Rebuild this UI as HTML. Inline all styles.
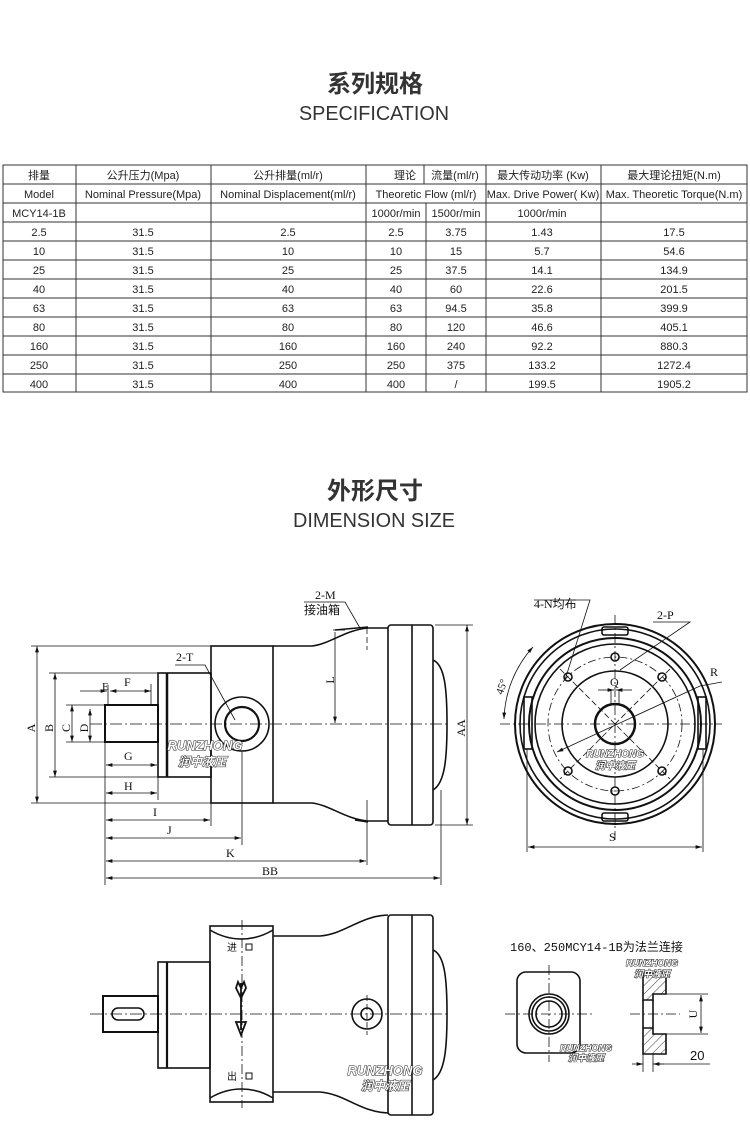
<!DOCTYPE html>
<html><head><meta charset="utf-8"><style>
html,body{margin:0;padding:0;background:#fff;}
svg{display:block;}
.t{font-family:"Liberation Sans Narrow","Liberation Sans","Noto Sans CJK SC",sans-serif;font-size:11px;fill:#222;}
.c{font-family:"Liberation Serif","Noto Sans CJK SC",serif;font-size:12px;fill:#111;}
.wm{font-family:"Liberation Sans","Noto Sans CJK SC",sans-serif;font-weight:bold;font-style:italic;fill:#fff;stroke:#222;stroke-width:1;paint-order:stroke;}
</style></head><body>
<svg width="750" height="1127" viewBox="0 0 750 1127" xmlns="http://www.w3.org/2000/svg">
<rect width="750" height="1127" fill="#fff"/>
<text x="375" y="92" text-anchor="middle" font-family="'Noto Sans CJK SC',sans-serif" font-weight="bold" font-size="24" fill="#333">系列规格</text>
<text x="374" y="120" text-anchor="middle" font-family="'Liberation Sans',sans-serif" font-size="20" fill="#333" textLength="150" lengthAdjust="spacingAndGlyphs">SPECIFICATION</text>
<text x="375" y="499" text-anchor="middle" font-family="'Noto Sans CJK SC',sans-serif" font-weight="bold" font-size="24" fill="#333">外形尺寸</text>
<text x="374" y="527" text-anchor="middle" font-family="'Liberation Sans',sans-serif" font-size="20" fill="#333" textLength="162" lengthAdjust="spacingAndGlyphs">DIMENSION SIZE</text>

<g stroke="#333" stroke-width="1" fill="none">
<rect x="3" y="165" width="744" height="227"/>
<line x1="3" y1="184" x2="747" y2="184"/><line x1="3" y1="203" x2="747" y2="203"/><line x1="3" y1="222" x2="747" y2="222"/>
<line x1="3" y1="241" x2="747" y2="241"/><line x1="3" y1="260" x2="747" y2="260"/><line x1="3" y1="279" x2="747" y2="279"/>
<line x1="3" y1="298" x2="747" y2="298"/><line x1="3" y1="317" x2="747" y2="317"/><line x1="3" y1="336" x2="747" y2="336"/>
<line x1="3" y1="355" x2="747" y2="355"/><line x1="3" y1="374" x2="747" y2="374"/>
<line x1="76" y1="165" x2="76" y2="392"/><line x1="211" y1="165" x2="211" y2="392"/><line x1="366" y1="165" x2="366" y2="392"/>
<line x1="424" y1="165" x2="424" y2="184"/><line x1="426" y1="203" x2="426" y2="392"/>
<line x1="486" y1="165" x2="486" y2="392"/><line x1="601" y1="165" x2="601" y2="392"/>
</g>
<g class="t" text-anchor="middle">
<text x="39" y="179">排量</text><text x="143" y="179">公升压力(Mpa)</text><text x="288" y="179">公升排量(ml/r)</text><text x="405" y="179">理论</text><text x="455" y="179">流量(ml/r)</text><text x="543" y="179">最大传动功率 (Kw)</text><text x="674" y="179">最大理论扭矩(N.m)</text>
<text x="39" y="198">Model</text><text x="143" y="198">Nominal Pressure(Mpa)</text><text x="288" y="198">Nominal Displacement(ml/r)</text><text x="426" y="198">Theoretic Flow (ml/r)</text><text x="543" y="198">Max. Drive Power( Kw)</text><text x="674" y="198">Max. Theoretic Torque(N.m)</text>
<text x="39" y="217">MCY14-1B</text><text x="396" y="217">1000r/min</text><text x="456" y="217">1500r/min</text><text x="542" y="217">1000r/min</text>
</g>
<g class="t" text-anchor="middle">
<text x="39" y="236">2.5</text><text x="143" y="236">31.5</text><text x="288" y="236">2.5</text><text x="396" y="236">2.5</text><text x="456" y="236">3.75</text><text x="542" y="236">1.43</text><text x="674" y="236">17.5</text>
<text x="39" y="255">10</text><text x="143" y="255">31.5</text><text x="288" y="255">10</text><text x="396" y="255">10</text><text x="456" y="255">15</text><text x="542" y="255">5.7</text><text x="674" y="255">54.6</text>
<text x="39" y="274">25</text><text x="143" y="274">31.5</text><text x="288" y="274">25</text><text x="396" y="274">25</text><text x="456" y="274">37.5</text><text x="542" y="274">14.1</text><text x="674" y="274">134.9</text>
<text x="39" y="293">40</text><text x="143" y="293">31.5</text><text x="288" y="293">40</text><text x="396" y="293">40</text><text x="456" y="293">60</text><text x="542" y="293">22.6</text><text x="674" y="293">201.5</text>
<text x="39" y="312">63</text><text x="143" y="312">31.5</text><text x="288" y="312">63</text><text x="396" y="312">63</text><text x="456" y="312">94.5</text><text x="542" y="312">35.8</text><text x="674" y="312">399.9</text>
<text x="39" y="331">80</text><text x="143" y="331">31.5</text><text x="288" y="331">80</text><text x="396" y="331">80</text><text x="456" y="331">120</text><text x="542" y="331">46.6</text><text x="674" y="331">405.1</text>
<text x="39" y="350">160</text><text x="143" y="350">31.5</text><text x="288" y="350">160</text><text x="396" y="350">160</text><text x="456" y="350">240</text><text x="542" y="350">92.2</text><text x="674" y="350">880.3</text>
<text x="39" y="369">250</text><text x="143" y="369">31.5</text><text x="288" y="369">250</text><text x="396" y="369">250</text><text x="456" y="369">375</text><text x="542" y="369">133.2</text><text x="674" y="369">1272.4</text>
<text x="39" y="388">400</text><text x="143" y="388">31.5</text><text x="288" y="388">400</text><text x="396" y="388">400</text><text x="456" y="388">/</text><text x="542" y="388">199.5</text><text x="674" y="388">1905.2</text>
</g>

<defs>
<marker id="a" viewBox="0 0 10 6" refX="10" refY="3" markerWidth="8" markerHeight="5" orient="auto-start-reverse"><path d="M0,0L10,3L0,6z" fill="#111"/></marker>
</defs>

<g stroke="#111" fill="none" stroke-width="1.6">
<rect x="105" y="705" width="53" height="37" stroke-width="2"/>
<rect x="158" y="673" width="53" height="104"/>
<line x1="167" y1="673" x2="167" y2="777" stroke-width="2.5"/>
<rect x="211" y="646" width="62" height="157"/>
<path d="M273,646 L312,646 C330,644 345,630 368,628 L388,628 M273,803 L312,803 C330,805 345,819 368,821 L388,821"/>
<path d="M335,630 L368,627 M355,820 L368,822"/>
<rect x="388" y="625" width="45" height="200" rx="3"/>
<line x1="412" y1="625" x2="412" y2="825"/>
<path d="M433,660 C445,665 447,690 447,724 C447,758 445,783 433,790"/>
<circle cx="242" cy="724" r="27"/>
<circle cx="242" cy="724" r="17" stroke-width="2.2"/>
</g>
<g stroke="#111" fill="none" stroke-width="0.8">
<line x1="90" y1="724" x2="450" y2="724" stroke-dasharray="12,3,2,3"/>
<line x1="367" y1="628" x2="367" y2="650" stroke-dasharray="6,3"/>
<line x1="367" y1="800" x2="367" y2="865"/>
<line x1="31" y1="646" x2="211" y2="646"/><line x1="31" y1="803" x2="211" y2="803"/>
<line x1="49" y1="673" x2="158" y2="673"/><line x1="49" y1="777" x2="158" y2="777"/>
<line x1="66" y1="705" x2="105" y2="705"/><line x1="66" y1="742" x2="105" y2="742"/>
<line x1="37" y1="646" x2="37" y2="803" marker-start="url(#a)" marker-end="url(#a)"/>
<line x1="55" y1="673" x2="55" y2="777" marker-start="url(#a)" marker-end="url(#a)"/>
<line x1="72" y1="705" x2="72" y2="742" marker-start="url(#a)" marker-end="url(#a)"/>
<line x1="90" y1="709" x2="90" y2="742" marker-start="url(#a)" marker-end="url(#a)"/>
<line x1="105" y1="742" x2="105" y2="885"/>
<line x1="80" y1="691" x2="107" y2="691" marker-end="url(#a)"/>
<line x1="110" y1="691" x2="131" y2="691" marker-start="url(#a)"/>
<line x1="131" y1="691" x2="151" y2="691" marker-end="url(#a)"/>
<line x1="108" y1="685" x2="108" y2="705"/><line x1="151" y1="684" x2="151" y2="705"/>
<line x1="106" y1="765" x2="157" y2="765" marker-start="url(#a)" marker-end="url(#a)"/>
<line x1="106" y1="793" x2="157" y2="793" marker-start="url(#a)" marker-end="url(#a)"/>
<line x1="158" y1="777" x2="158" y2="800"/>
<line x1="106" y1="820" x2="210" y2="820" marker-start="url(#a)" marker-end="url(#a)"/>
<line x1="211" y1="803" x2="211" y2="826"/>
<line x1="242" y1="751" x2="242" y2="845"/>
<line x1="106" y1="838" x2="241" y2="838" marker-start="url(#a)" marker-end="url(#a)"/>
<line x1="106" y1="861" x2="366" y2="861" marker-start="url(#a)" marker-end="url(#a)"/>
<line x1="106" y1="878" x2="440" y2="878" marker-start="url(#a)" marker-end="url(#a)"/>
<line x1="441" y1="790" x2="441" y2="885"/>
<line x1="435" y1="625" x2="473" y2="625"/><line x1="435" y1="825" x2="473" y2="825"/>
<line x1="467" y1="625" x2="467" y2="825" marker-start="url(#a)" marker-end="url(#a)"/>
<line x1="335" y1="632" x2="335" y2="723" marker-end="url(#a)"/>
<line x1="333" y1="630" x2="345" y2="630"/>
<path d="M175,665 L205,665 L235,720"/>
<path d="M304,602 L345,602 L360,628"/>
</g>
<g class="c">
<text x="315" y="599">2-M</text><text x="304" y="614" font-family="'Noto Sans CJK SC',sans-serif" font-size="12">接油箱</text>
<text x="176" y="661">2-T</text>
<text x="102" y="690" font-size="11">E</text><text x="124" y="686">F</text>
<text x="124" y="760">G</text><text x="124" y="790">H</text>
<text x="153" y="816">I</text><text x="167" y="834">J</text><text x="226" y="857">K</text><text x="262" y="875">BB</text>
<text transform="translate(35,728) rotate(-90)" text-anchor="middle">A</text>
<text transform="translate(53,728) rotate(-90)" text-anchor="middle">B</text>
<text transform="translate(70,728) rotate(-90)" text-anchor="middle">C</text>
<text transform="translate(88,728) rotate(-90)" text-anchor="middle">D</text>
<text transform="translate(465,728) rotate(-90)" text-anchor="middle">AA</text>
<text transform="translate(334,680) rotate(-90)" text-anchor="middle">L</text>
</g>
<text class="wm" x="205" y="750" font-size="13" text-anchor="middle">RUNZHONG</text>
<text class="wm" x="202" y="766" font-size="12" text-anchor="middle" font-style="normal">润中液压</text>

<g stroke="#111" fill="none" stroke-width="1.6">
<circle cx="615" cy="724" r="100" stroke-width="2"/>
<circle cx="615" cy="724" r="95"/>
<circle cx="615" cy="724" r="86" stroke-width="2"/>
<circle cx="615" cy="724" r="80"/>
<circle cx="615" cy="724" r="53"/>
<circle cx="615" cy="724" r="20" stroke-width="2.5"/>
<rect x="602" y="627" width="26" height="8" rx="2"/>
<rect x="602" y="813" width="26" height="8" rx="2"/>
<rect x="524" y="697" width="8" height="52"/>
<rect x="698" y="697" width="8" height="52"/>
<circle cx="615" cy="657" r="4"/><circle cx="615" cy="791" r="4"/>
<circle cx="568" cy="677" r="4"/><circle cx="662" cy="677" r="4"/>
<circle cx="568" cy="771" r="4"/><circle cx="662" cy="771" r="4"/>
</g>
<g stroke="#111" fill="none" stroke-width="0.8">
<circle cx="615" cy="724" r="67" stroke-dasharray="8,3,2,3"/>
<line x1="500" y1="724" x2="722" y2="724" stroke-dasharray="10,3,2,3"/>
<line x1="615" y1="615" x2="615" y2="840" stroke-dasharray="10,3,2,3"/>
<line x1="560" y1="669" x2="670" y2="779" stroke-dasharray="6,3"/>
<line x1="670" y1="669" x2="560" y2="779" stroke-dasharray="6,3"/>
<line x1="598" y1="690" x2="614" y2="690" marker-end="url(#a)"/><line x1="632" y1="690" x2="616" y2="690" marker-end="url(#a)"/>
<line x1="611" y1="690" x2="611" y2="705"/><line x1="619" y1="690" x2="619" y2="705"/>
<line x1="557" y1="752" x2="700" y2="686" marker-start="url(#a)"/>
<line x1="700" y1="686" x2="722" y2="682"/>
<path d="M534,600 L590,600 L565,680"/>
<path d="M653,622 L690,622 L620,670"/>
<path d="M504,719 A112,112 0 0 1 533,647" marker-start="url(#a)" marker-end="url(#a)"/>
<line x1="527" y1="749" x2="527" y2="852"/><line x1="703" y1="749" x2="703" y2="852"/>
<line x1="528" y1="847" x2="702" y2="847" marker-start="url(#a)" marker-end="url(#a)"/>
</g>
<g class="c">
<text x="534" y="608">4-N均布</text>
<text x="657" y="619">2-P</text>
<text x="710" y="676">R</text>
<text x="610" y="686">Q</text>
<text x="609" y="841">S</text>
<text transform="translate(505,688) rotate(-70)" text-anchor="middle" font-size="11">45°</text>
</g>
<text class="wm" x="615" y="757" font-size="10" text-anchor="middle">RUNZHONG</text>
<text class="wm" x="615" y="769" font-size="10" text-anchor="middle" font-style="normal">润中液压</text>

<g stroke="#111" fill="none" stroke-width="1.6">
<rect x="103" y="996" width="55" height="36" stroke-width="2"/>
<rect x="112" y="1008" width="32" height="12" rx="6"/>
<rect x="158" y="962" width="52" height="106"/>
<line x1="167" y1="962" x2="167" y2="1068" stroke-width="2.2"/>
<rect x="210" y="926" width="63" height="176"/>
<path d="M210,930 C230,942 253,942 273,930 M210,1098 C230,1086 253,1086 273,1098"/>
<path d="M273,936 L320,936 C345,934 360,916 388,915 M273,1092 L320,1092 C345,1094 360,1112 388,1113"/>
<rect x="388" y="915" width="45" height="200" rx="3"/>
<line x1="412" y1="915" x2="412" y2="1115"/>
<path d="M433,950 C445,955 447,980 447,1014 C447,1048 445,1073 433,1080"/>
<circle cx="367" cy="1014" r="15"/><circle cx="367" cy="1014" r="6"/>
<rect x="246" y="944" width="6" height="6" stroke-width="1"/>
<rect x="246" y="1073" width="6" height="6" stroke-width="1"/>
<path d="M241,983 L241,1030 M236,1022 L241,1035 L246,1022 Z M236,988 L241,998 L246,988 L244,982 L241,988 L238,982 Z" stroke-width="1.8"/>
</g>
<g stroke="#111" fill="none" stroke-width="0.8">
<line x1="90" y1="1014" x2="450" y2="1014" stroke-dasharray="12,3,2,3"/>
<line x1="242" y1="920" x2="242" y2="1108" stroke-dasharray="10,3,2,3"/>
<line x1="367" y1="995" x2="367" y2="1035" stroke-dasharray="6,3"/>
</g>
<text x="227" y="951" font-family="'Noto Sans CJK SC',sans-serif" font-size="10" fill="#111">进</text>
<text x="227" y="1080" font-family="'Noto Sans CJK SC',sans-serif" font-size="10" fill="#111">出</text>
<text class="wm" x="385" y="1075" font-size="13" text-anchor="middle">RUNZHONG</text>
<text class="wm" x="385" y="1090" font-size="12" text-anchor="middle" font-style="normal">润中液压</text>

<text x="510" y="951" font-family="'Liberation Mono','Noto Sans CJK SC',monospace" font-size="12" fill="#111">160、250MCY14-1B为法兰连接</text>
<defs><pattern id="h" width="6" height="6" patternUnits="userSpaceOnUse" patternTransform="rotate(45)"><line x1="0" y1="0" x2="0" y2="6" stroke="#111" stroke-width="0.8"/></pattern></defs>
<g stroke="#111" fill="none" stroke-width="1.6">
<rect x="517" y="972" width="63" height="81" rx="9"/>
<circle cx="549" cy="1014" r="20"/><circle cx="549" cy="1014" r="17"/><circle cx="549" cy="1014" r="13"/>
<path d="M643,973 L666,973 L666,994 L653,994 L653,1000 L643,1000 Z" fill="url(#h)"/>
<path d="M643,1028 L653,1028 L653,1034 L666,1034 L666,1054 L643,1054 Z" fill="url(#h)"/>
<path d="M643,1000 L643,1028 M653,1000 L653,1028"/>
</g>
<g stroke="#111" fill="none" stroke-width="0.8">
<line x1="505" y1="1014" x2="593" y2="1014" stroke-dasharray="10,3,2,3"/>
<line x1="549" y1="965" x2="549" y2="1062" stroke-dasharray="10,3,2,3"/>
<line x1="630" y1="1014" x2="680" y2="1014" stroke-dasharray="10,3,2,3"/>
<line x1="666" y1="994" x2="708" y2="994"/><line x1="666" y1="1034" x2="708" y2="1034"/>
<line x1="701" y1="995" x2="701" y2="1033" marker-start="url(#a)" marker-end="url(#a)"/>
<line x1="643" y1="1054" x2="643" y2="1072"/><line x1="653" y1="1054" x2="653" y2="1072"/>
<line x1="632" y1="1064" x2="643" y2="1064" marker-end="url(#a)"/><line x1="664" y1="1064" x2="653" y2="1064" marker-end="url(#a)"/>
<line x1="653" y1="1064" x2="710" y2="1064"/>
</g>
<text transform="translate(697,1014) rotate(-90)" text-anchor="middle" class="c">U</text>
<text x="690" y="1060" font-family="'Liberation Sans',sans-serif" font-size="13" fill="#111">20</text>
<text class="wm" x="652" y="966" font-size="9" text-anchor="middle">RUNZHONG</text>
<text class="wm" x="652" y="977" font-size="9" text-anchor="middle" font-style="normal">润中液压</text>
<text class="wm" x="586" y="1051" font-size="9" text-anchor="middle">RUNZHONG</text>
<text class="wm" x="586" y="1061" font-size="9" text-anchor="middle" font-style="normal">润中液压</text>
</svg>
</body></html>
